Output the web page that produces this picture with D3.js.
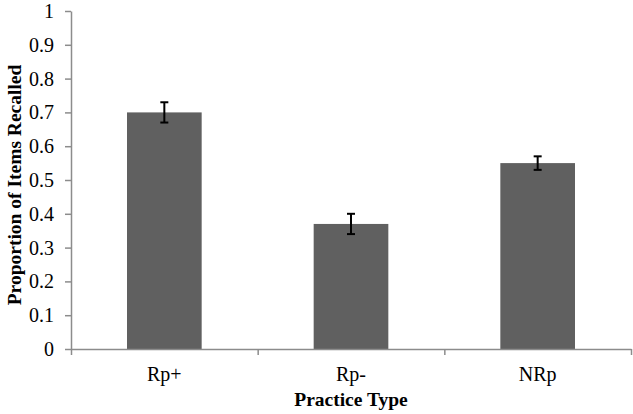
<!DOCTYPE html>
<html>
<head>
<meta charset="utf-8">
<script src="https://cdn.jsdelivr.net/npm/d3@7"></script>
<style>
  body { margin: 0; background: #fff; }
</style>
</head>
<body>
<div id="chart"></div>
<script>
// data
const categories = ["Rp+", "Rp-", "NRp"];
const proportions = [0.70, 0.37, 0.55];
const errors = [0.03, 0.03, 0.02];
const yTicks = [0, 0.1, 0.2, 0.3, 0.4, 0.5, 0.6, 0.7, 0.8, 0.9, 1];

const FONT = "Liberation Serif";

// svg set up
let svgWidth = 633;
let svgHeight = 414;
let margin = { top: 11, bottom: 65, left: 71, right: 2 };
let width = svgWidth - margin.left - margin.right;
let height = svgHeight - margin.top - margin.bottom;

let svg = d3.select("#chart")
    .append("svg")
    .attr("width", svgWidth)
    .attr("height", svgHeight)
    .attr("font-family", FONT);

let chartGroup = svg.append("g")
    .attr("transform", `translate(${margin.left},${margin.top})`);

// scales
let xScale = d3.scaleBand()
    .domain(categories)
    .range([0, width])
    .padding(0);
let yScale = d3.scaleLinear()
    .domain([0, 1])
    .range([height, 0]);

let barWidth = xScale.bandwidth() * 0.4;

// bars
chartGroup.selectAll(".bar")
    .data(categories)
    .enter()
    .append("rect")
    .attr("class", "bar")
    .attr("x", (d, i) => xScale(d) + (xScale.bandwidth() - barWidth) / 2)
    .attr("y", (d, i) => yScale(proportions[i]))
    .attr("width", barWidth)
    .attr("height", (d, i) => height - yScale(proportions[i]))
    .attr("fill", "#606060");

// error bars
let errGroup = chartGroup.selectAll(".err")
    .data(categories)
    .enter()
    .append("g")
    .attr("class", "err")
    .attr("stroke", "#000")
    .attr("stroke-width", 2);
errGroup.append("line")
    .attr("x1", d => xScale(d) + xScale.bandwidth() / 2)
    .attr("x2", d => xScale(d) + xScale.bandwidth() / 2)
    .attr("y1", (d, i) => yScale(proportions[i] + errors[i]))
    .attr("y2", (d, i) => yScale(proportions[i] - errors[i]));
[1, -1].forEach(sign => {
    errGroup.append("line")
        .attr("x1", d => xScale(d) + xScale.bandwidth() / 2 - 4)
        .attr("x2", d => xScale(d) + xScale.bandwidth() / 2 + 4)
        .attr("y1", (d, i) => yScale(proportions[i] + sign * errors[i]))
        .attr("y2", (d, i) => yScale(proportions[i] + sign * errors[i]));
});

// axes
let leftAxis = d3.axisLeft(yScale)
    .tickValues(yTicks)
    .tickFormat(d => d3.format("")(+d.toFixed(1)))
    .tickSizeInner(6)
    .tickSizeOuter(0)
    .tickPadding(11);
let yAxisG = chartGroup.append("g").call(leftAxis);

// x axis ticks sit on the category boundaries
let xTickScale = d3.scaleLinear().domain([0, categories.length]).range([0, width]);
let bottomAxis = d3.axisBottom(xTickScale)
    .tickValues(d3.range(categories.length + 1))
    .tickFormat("")
    .tickSizeInner(6)
    .tickSizeOuter(0);
let xAxisG = chartGroup.append("g")
    .attr("transform", `translate(0,${height})`)
    .call(bottomAxis);

[yAxisG, xAxisG].forEach(g => {
    g.attr("font-family", FONT).attr("font-size", 20);
    g.selectAll("path, line").attr("stroke", "#8c8c8c").attr("stroke-width", 1.5);
    g.selectAll("text").attr("font-family", FONT).attr("font-size", 20).attr("fill", "#000");
});

// category labels
chartGroup.selectAll(".cat")
    .data(categories)
    .enter()
    .append("text")
    .attr("class", "cat")
    .attr("x", d => xScale(d) + xScale.bandwidth() / 2)
    .attr("y", height + 32)
    .attr("text-anchor", "middle")
    .attr("font-family", FONT)
    .attr("font-size", 20)
    .text(d => d);

// axis titles
chartGroup.append("text")
    .attr("transform", "rotate(-90)")
    .attr("x", -height / 2 - 5)
    .attr("y", -margin.left + 21)
    .attr("text-anchor", "middle")
    .attr("font-family", FONT)
    .attr("font-size", 19.5)
    .attr("font-weight", "bold")
    .text("Proportion of Items Recalled");
chartGroup.append("text")
    .attr("x", xScale("Rp-") + xScale.bandwidth() / 2)
    .attr("y", height + 57)
    .attr("text-anchor", "middle")
    .attr("font-family", FONT)
    .attr("font-size", 19.5)
    .attr("font-weight", "bold")
    .text("Practice Type");
</script>
</body>
</html>
